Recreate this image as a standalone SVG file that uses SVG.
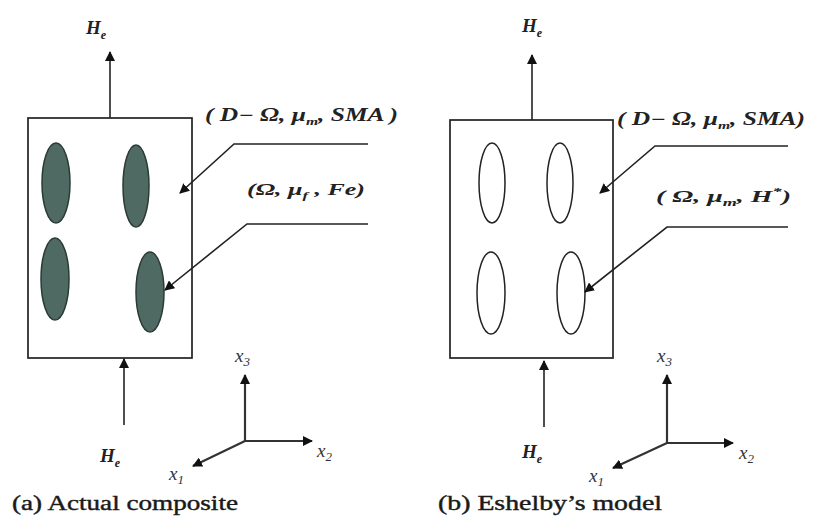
<svg xmlns="http://www.w3.org/2000/svg" width="813" height="526" viewBox="0 0 813 526">
<defs>
<marker id="ah" viewBox="0 0 10 10" refX="9" refY="5" markerWidth="10" markerHeight="10" markerUnits="userSpaceOnUse" orient="auto">
<path d="M0,0 L10,5 L0,10 z" fill="#111"/>
</marker>
<style>
.box{fill:#fff;stroke:#222;stroke-width:1.7}
.inc{fill:#4f6a63;stroke:#2a3a35;stroke-width:1.5}
.eo{fill:none;stroke:#222;stroke-width:1.5}
.ar{fill:none;stroke:#222;stroke-width:1.6;marker-end:url(#ah)}
.ax{fill:none;stroke:#333;stroke-width:2.2;marker-end:url(#ah)}
.it{font-family:"Liberation Serif",serif;font-style:italic;font-weight:bold;fill:#222}
.ix{font-family:"Liberation Serif",serif;font-style:italic;fill:#333}
.cap{font-family:"Liberation Serif",serif;font-size:20px;fill:#1a1a1a;stroke:#1a1a1a;stroke-width:0.4}
</style>
</defs>
<rect width="813" height="526" fill="#fff"/>

<g id="panel-a">
<rect class="box" x="28" y="118" width="164" height="240"/>
<ellipse class="inc" cx="56" cy="183" rx="14" ry="40"/>
<ellipse class="inc" cx="136" cy="186" rx="13" ry="41"/>
<ellipse class="inc" cx="55" cy="279" rx="14" ry="41"/>
<ellipse class="inc" cx="150" cy="292" rx="14" ry="40"/>
</g>
<g id="panel-b">
<rect class="box" x="450" y="120" width="163" height="238"/>
<ellipse class="eo" cx="492" cy="183" rx="13" ry="40"/>
<ellipse class="eo" cx="560" cy="183" rx="13" ry="40"/>
<ellipse class="eo" cx="491" cy="293" rx="14" ry="41"/>
<ellipse class="eo" cx="571" cy="293" rx="14" ry="41"/>
</g>

<g id="connectors">
<line class="ar" x1="110" y1="118" x2="110" y2="52"/>
<line class="ar" x1="124" y1="425" x2="124" y2="359"/>
<path class="ar" d="M368,144 L234,144 L180,193"/>
<path class="ar" d="M368,224 L247,224 L165,290"/>
<line class="ax" x1="245" y1="441" x2="245" y2="375"/>
<line class="ax" x1="245" y1="441" x2="312" y2="441"/>
<line class="ax" x1="245" y1="441" x2="193" y2="466"/>

<line class="ar" x1="532" y1="120" x2="532" y2="55"/>
<line class="ar" x1="544" y1="427" x2="544" y2="361"/>
<path class="ar" d="M788,146 L655,146 L600,193"/>
<path class="ar" d="M788,227 L667,227 L585,292"/>
<line class="ax" x1="667" y1="443" x2="667" y2="375"/>
<line class="ax" x1="667" y1="443" x2="733" y2="443"/>
<line class="ax" x1="667" y1="443" x2="613" y2="468"/>
</g>

<g id="labels-a">
<text class="it" x="86" y="34" font-size="19">H<tspan font-size="12" dy="5">e</tspan></text>
<text class="it" x="100" y="462" font-size="19">H<tspan font-size="12" dy="5">e</tspan></text>
<text class="it" x="205" y="121" font-size="18" textLength="193" lengthAdjust="spacingAndGlyphs">( D− Ω, μ<tspan font-size="11" dy="4">m</tspan><tspan dy="-4">, SMA )</tspan></text>
<text class="it" x="247" y="195" font-size="17" textLength="118" lengthAdjust="spacingAndGlyphs">(Ω, μ<tspan font-size="11" dy="4">f</tspan><tspan dy="-4"> , Fe)</tspan></text>
<text class="ix" x="235" y="362" font-size="19">x<tspan font-size="13" dy="4">3</tspan></text>
<text class="ix" x="317" y="457" font-size="19">x<tspan font-size="13" dy="4">2</tspan></text>
<text class="ix" x="169" y="480" font-size="19">x<tspan font-size="13" dy="4">1</tspan></text>
<text class="cap" x="12" y="510" textLength="226" lengthAdjust="spacingAndGlyphs">(a) Actual composite</text>
</g>
<g id="labels-b">
<text class="it" x="522" y="32" font-size="19">H<tspan font-size="12" dy="5">e</tspan></text>
<text class="it" x="522" y="458" font-size="19">H<tspan font-size="12" dy="5">e</tspan></text>
<text class="it" x="617" y="125" font-size="18" textLength="188" lengthAdjust="spacingAndGlyphs">( D− Ω, μ<tspan font-size="11" dy="4">m</tspan><tspan dy="-4">, SMA)</tspan></text>
<text class="it" x="656" y="202" font-size="17" textLength="135" lengthAdjust="spacingAndGlyphs">( Ω, μ<tspan font-size="11" dy="4">m</tspan><tspan dy="-4">, H</tspan><tspan font-size="11" dy="-7">*</tspan><tspan dy="7">)</tspan></text>
<text class="ix" x="657" y="362" font-size="19">x<tspan font-size="13" dy="4">3</tspan></text>
<text class="ix" x="739" y="459" font-size="19">x<tspan font-size="13" dy="4">2</tspan></text>
<text class="ix" x="589" y="482" font-size="19">x<tspan font-size="13" dy="4">1</tspan></text>
<text class="cap" x="438" y="510" textLength="224" lengthAdjust="spacingAndGlyphs">(b) Eshelby’s model</text>
</g>
</svg>
